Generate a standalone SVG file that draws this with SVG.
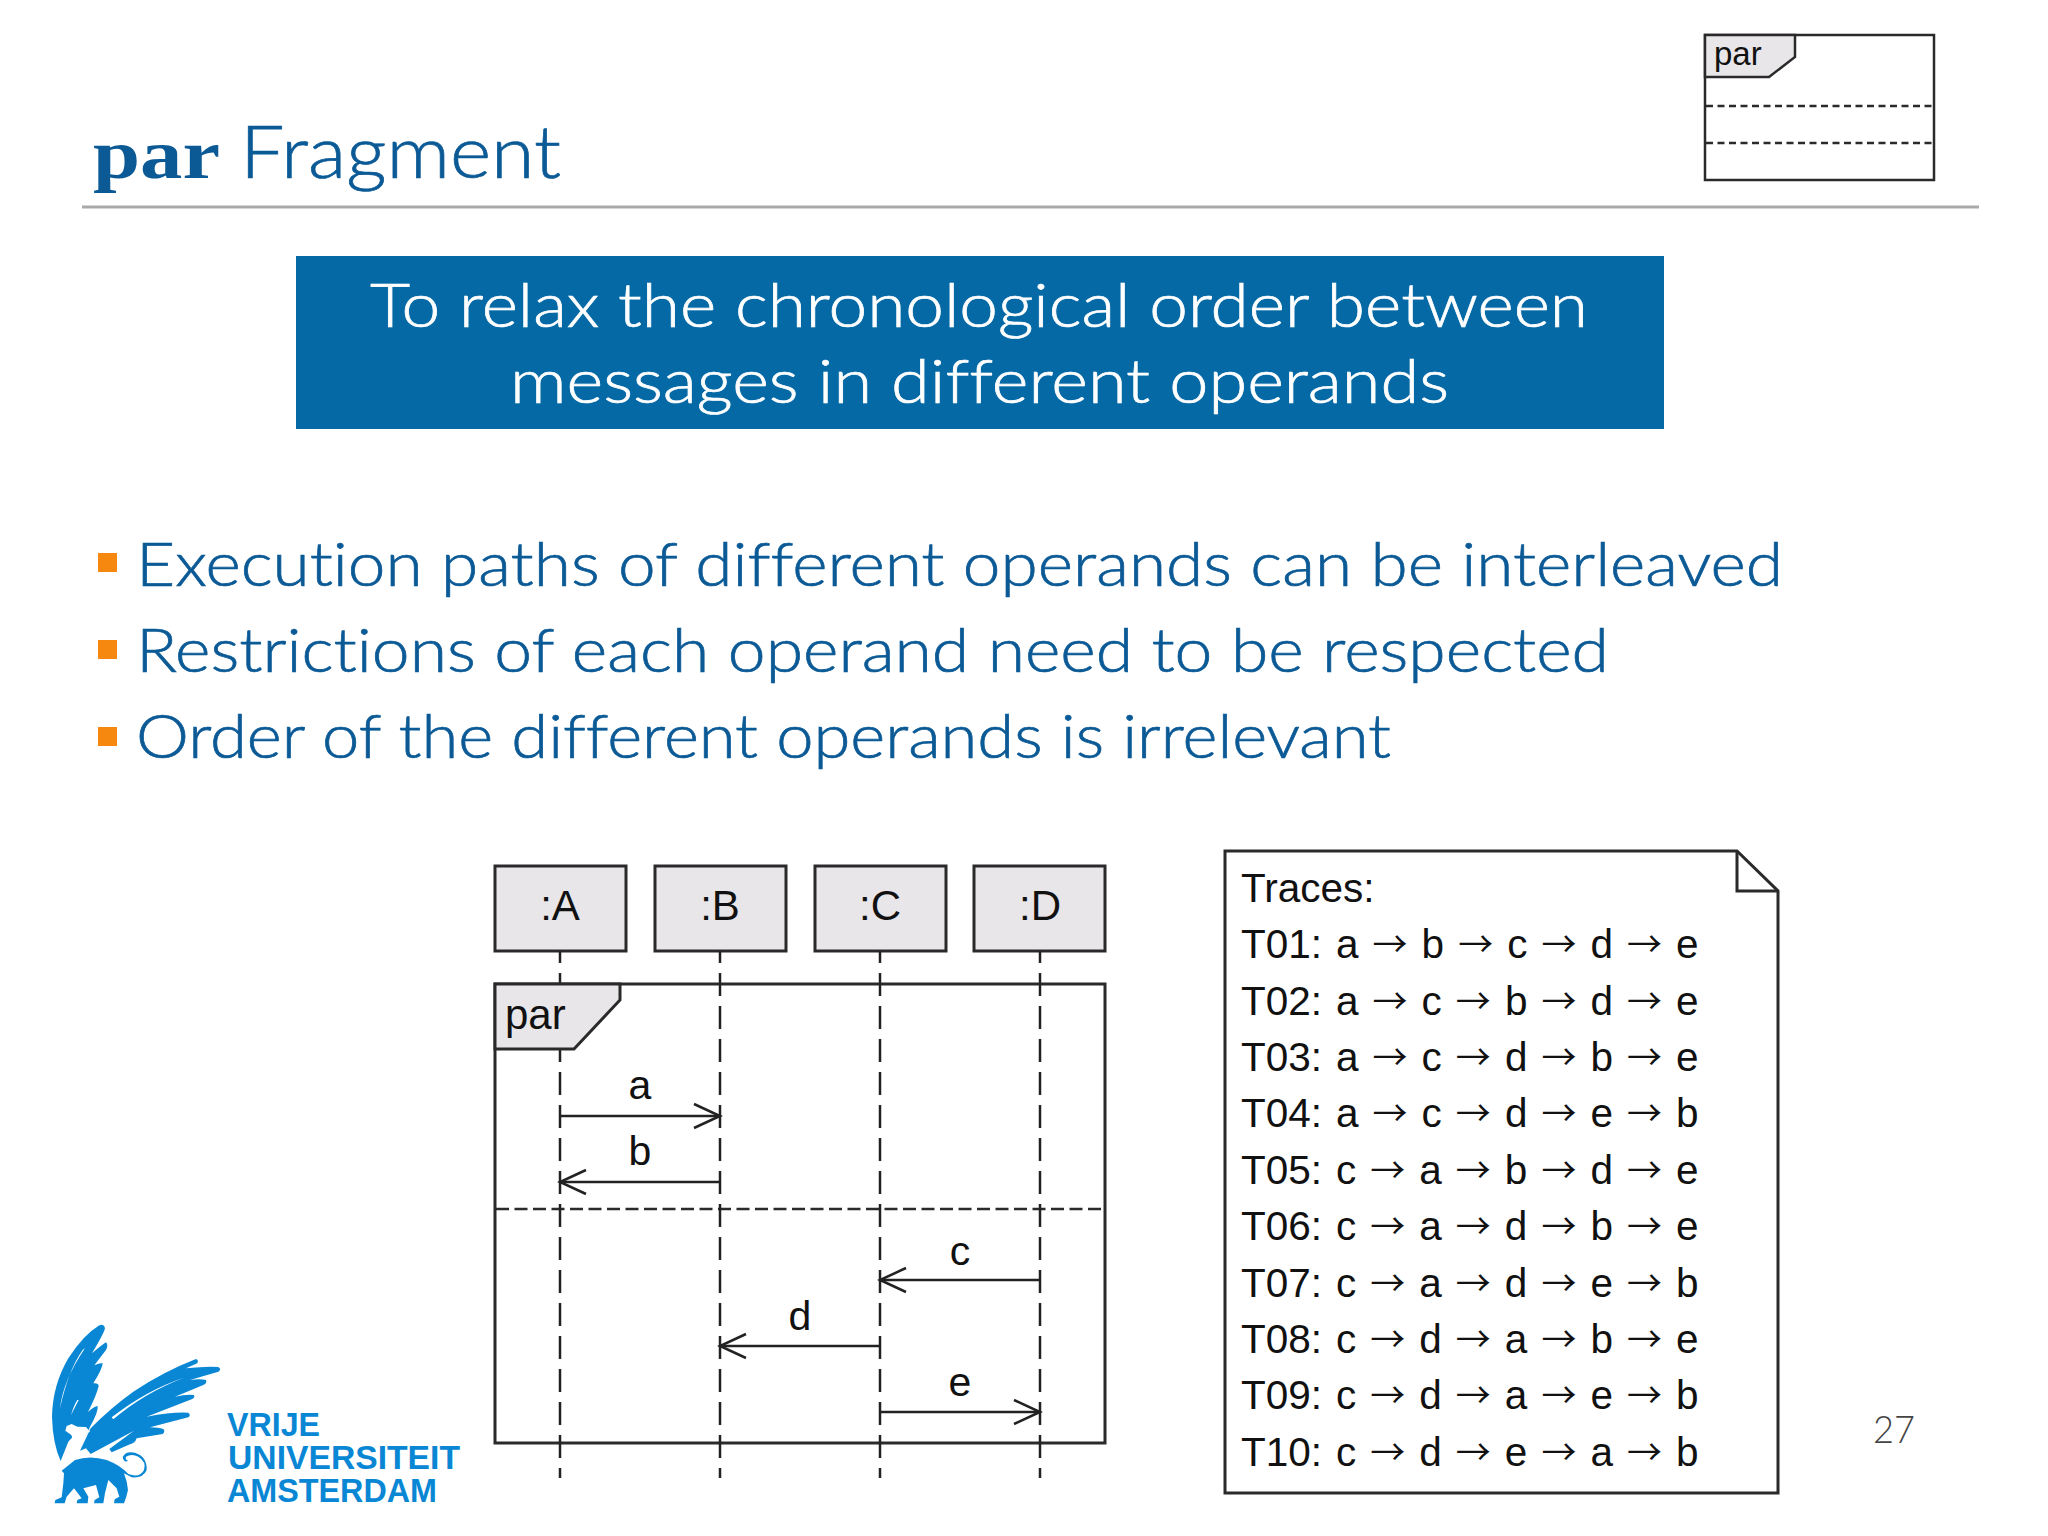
<svg xmlns="http://www.w3.org/2000/svg" width="2048" height="1536" viewBox="0 0 2048 1536">
<style>
.t{font-family:"Lato","Open Sans",sans-serif;font-weight:300;fill:#0b5a96;stroke:#0b5a96;stroke-width:.7;font-variant-ligatures:none}
.w{font-family:"Lato","Open Sans",sans-serif;font-weight:300;fill:#fff;stroke:#fff;stroke-width:.7;font-variant-ligatures:none}
.u{font-family:"Liberation Sans",Arial,sans-serif;fill:#111}
.arr{font-family:"Noto Sans CJK SC",sans-serif;font-size:35px;baseline-shift:1.5px}
.box{fill:#e8e6e8;stroke:#2a2a2a;stroke-width:3}
.frame{fill:none;stroke:#2a2a2a;stroke-width:3}
.sep{fill:none;stroke:#2a2a2a;stroke-width:2.5;stroke-dasharray:13 5.500}
.life{fill:none;stroke:#222;stroke-width:2.5;stroke-dasharray:23 10;stroke-dashoffset:11}
.msg{fill:none;stroke:#222;stroke-width:2.5}
.bullet{fill:#f7880f}
.vu{fill:#0a87d4}
</style>
<defs>
<marker id="open" markerUnits="userSpaceOnUse" markerWidth="32" markerHeight="32" viewBox="-29 -15 32 30" refX="0" refY="0" orient="auto">
<path d="M-26,-12L0,0L-26,12" fill="none" stroke="#222" stroke-width="2.500"/>
</marker>
</defs>
<rect width="2048" height="1536" fill="#fff"/>

<g id="title">
<text x="93" y="178" font-size="70" textLength="127" lengthAdjust="spacingAndGlyphs" style="font-family:'Liberation Serif',serif;font-weight:700;fill:#0b5a96">par</text>
<text class="t" x="240" y="178" font-size="72" textLength="321" lengthAdjust="spacingAndGlyphs">Fragment</text>
<rect x="82" y="205.500" width="1897" height="3" fill="#a9a9a9"/>
</g>

<g id="icon-par">
<rect class="frame" x="1705" y="35" width="229" height="145" style="stroke-width:2.500"/>
<path class="box" style="stroke-width:2.500" d="M1705,35H1795V57L1769,77H1705Z"/>
<text class="u" x="1714" y="65" font-size="33">par</text>
<path class="sep" style="stroke-dasharray:7 4.500" d="M1706,106H1933M1706,143H1933"/>
</g>

<g id="banner">
<rect x="296" y="256" width="1368" height="173" fill="#0569a6"/>
<text class="w" x="370" y="326.500" font-size="62" textLength="1218" lengthAdjust="spacingAndGlyphs">To relax the chronological order between</text>
<text class="w" x="510" y="402.500" font-size="62" textLength="939" lengthAdjust="spacingAndGlyphs">messages in different operands</text>
</g>

<g id="bullets">
<rect class="bullet" x="98" y="553" width="19" height="19"/>
<text class="t" x="136" y="586" font-size="62" textLength="1647" lengthAdjust="spacingAndGlyphs">Execution paths of different operands can be interleaved</text>
<rect class="bullet" x="98" y="640" width="19" height="19"/>
<text class="t" x="136" y="672" font-size="62" textLength="1473" lengthAdjust="spacingAndGlyphs">Restrictions of each operand need to be respected</text>
<rect class="bullet" x="98" y="727" width="19" height="19"/>
<text class="t" x="136" y="758" font-size="62" textLength="1255" lengthAdjust="spacingAndGlyphs">Order of the different operands is irrelevant</text>
</g>

<g id="fragment-par">
<rect class="frame" x="495" y="984" width="610" height="459"/>
<path class="sep" d="M496,1209H1104"/>
</g>

<g id="node-A">
<rect class="box" x="495" y="866" width="131" height="85"/>
<text class="u" x="560" y="920" font-size="42" text-anchor="middle">:A</text>
</g>
<g id="node-B">
<rect class="box" x="655" y="866" width="131" height="85"/>
<text class="u" x="720" y="920" font-size="42" text-anchor="middle">:B</text>
</g>
<g id="node-C">
<rect class="box" x="815" y="866" width="131" height="85"/>
<text class="u" x="880" y="920" font-size="42" text-anchor="middle">:C</text>
</g>
<g id="node-D">
<rect class="box" x="974" y="866" width="131" height="85"/>
<text class="u" x="1040" y="920" font-size="42" text-anchor="middle">:D</text>
</g>

<g id="connectors">
<path class="life" d="M560,951V1478"/>
<path class="life" d="M720,951V1478"/>
<path class="life" d="M880,951V1478"/>
<path class="life" d="M1040,951V1478"/>
<path class="msg" marker-end="url(#open)" d="M560,1116H720"/>
<path class="msg" marker-end="url(#open)" d="M720,1182H560"/>
<path class="msg" marker-end="url(#open)" d="M1040,1280H880"/>
<path class="msg" marker-end="url(#open)" d="M880,1346H720"/>
<path class="msg" marker-end="url(#open)" d="M880,1412H1040"/>
<g class="u" font-size="41" text-anchor="middle">
<text x="640" y="1099">a</text>
<text x="640" y="1165">b</text>
<text x="960" y="1265">c</text>
<text x="800" y="1330">d</text>
<text x="960" y="1396">e</text>
</g>
</g>

<g id="fragment-tag">
<path class="box" d="M495,984H620V1000L574,1049H495Z"/>
<text class="u" x="505" y="1029" font-size="42">par</text>
</g>

<g id="traces-note">
<path d="M1225,851H1737L1778,891V1493H1225Z" fill="#fff" stroke="#2a2a2a" stroke-width="3"/>
<path d="M1737,851V891H1778" fill="none" stroke="#2a2a2a" stroke-width="3"/>
<g class="u" font-size="40.500" style="word-spacing:2.750px">
<text x="1241" y="902">Traces:</text>
<text x="1241" y="958">T01: a <tspan class="arr">→</tspan> b <tspan class="arr">→</tspan> c <tspan class="arr">→</tspan> d <tspan class="arr">→</tspan> e</text>
<text x="1241" y="1015">T02: a <tspan class="arr">→</tspan> c <tspan class="arr">→</tspan> b <tspan class="arr">→</tspan> d <tspan class="arr">→</tspan> e</text>
<text x="1241" y="1071">T03: a <tspan class="arr">→</tspan> c <tspan class="arr">→</tspan> d <tspan class="arr">→</tspan> b <tspan class="arr">→</tspan> e</text>
<text x="1241" y="1127">T04: a <tspan class="arr">→</tspan> c <tspan class="arr">→</tspan> d <tspan class="arr">→</tspan> e <tspan class="arr">→</tspan> b</text>
<text x="1241" y="1184">T05: c <tspan class="arr">→</tspan> a <tspan class="arr">→</tspan> b <tspan class="arr">→</tspan> d <tspan class="arr">→</tspan> e</text>
<text x="1241" y="1240">T06: c <tspan class="arr">→</tspan> a <tspan class="arr">→</tspan> d <tspan class="arr">→</tspan> b <tspan class="arr">→</tspan> e</text>
<text x="1241" y="1297">T07: c <tspan class="arr">→</tspan> a <tspan class="arr">→</tspan> d <tspan class="arr">→</tspan> e <tspan class="arr">→</tspan> b</text>
<text x="1241" y="1353">T08: c <tspan class="arr">→</tspan> d <tspan class="arr">→</tspan> a <tspan class="arr">→</tspan> b <tspan class="arr">→</tspan> e</text>
<text x="1241" y="1409">T09: c <tspan class="arr">→</tspan> d <tspan class="arr">→</tspan> a <tspan class="arr">→</tspan> e <tspan class="arr">→</tspan> b</text>
<text x="1241" y="1466">T10: c <tspan class="arr">→</tspan> d <tspan class="arr">→</tspan> e <tspan class="arr">→</tspan> a <tspan class="arr">→</tspan> b</text>
</g>
</g>

<text id="page" class="t" x="1873" y="1443" font-size="38" textLength="42" lengthAdjust="spacingAndGlyphs" style="fill:#444;stroke:none">27</text>

<g id="logo">
<g transform="translate(0,1300) scale(0.3333)">
<path class="vu" d="M298,76Q312,70 315,85Q312,100 276,160Q305,135 318,127Q326,135 318,150L283,196Q300,188 308,190Q308,205 280,250Q295,248 296,258Q290,285 264,336Q282,320 293,318Q296,335 270,380L262,400L232,395L205,425L182,483Q158,430 156,350Q158,255 205,175Q250,105 298,76Z"/>
<path d="M248,150Q205,210 180,325Q190,240 255,145Z M236,300L213,345Q222,315 232,300Z" fill="#fff"/>
<path class="vu" d="M272,385Q330,325 400,275Q490,215 588,177Q597,180 592,190L558,205Q620,198 655,201Q666,208 655,215L570,240Q600,235 618,240Q622,250 610,255L525,290Q560,282 582,285Q586,294 575,298L440,350Q520,335 565,338Q574,345 565,352L450,382Q475,383 490,387Q497,395 488,402L410,415Q405,430 390,433L335,457L328,447L402,392L272,462L258,445L240,452Z"/>
<path d="M340,358Q430,280 552,233Q440,270 335,352Z" fill="#fff"/>
<path d="M200,378L215,372L232,380L258,381L270,395L255,402L250,410L235,415L235,440L205,475L200,470L222,430L214,405L196,392Z" fill="#fff"/>
<path class="vu" d="M185,512L225,480Q270,465 320,480Q360,495 385,522Q420,535 432,510Q440,485 415,470Q395,460 378,470Q375,480 385,482Q372,490 368,472Q375,452 405,458Q442,470 440,510Q430,535 395,532L372,520Q382,545 384,570Q380,590 372,610H342L344,598L358,590L350,565L325,540L315,580L310,610H282L284,600L298,592L288,555L250,565L265,590L263,610H230L232,600L245,595L222,565L200,590L194,610H164L166,600L185,592L190,550L192,520Z"/>
</g>
<g font-family="'Liberation Sans',Arial,sans-serif" font-weight="700" font-size="33.500" class="vu">
<text x="227" y="1436" textLength="93" lengthAdjust="spacingAndGlyphs">VRIJE</text>
<text x="228" y="1469" textLength="232" lengthAdjust="spacingAndGlyphs">UNIVERSITEIT</text>
<text x="227" y="1502" textLength="210" lengthAdjust="spacingAndGlyphs">AMSTERDAM</text>
</g>
</g>
</svg>
